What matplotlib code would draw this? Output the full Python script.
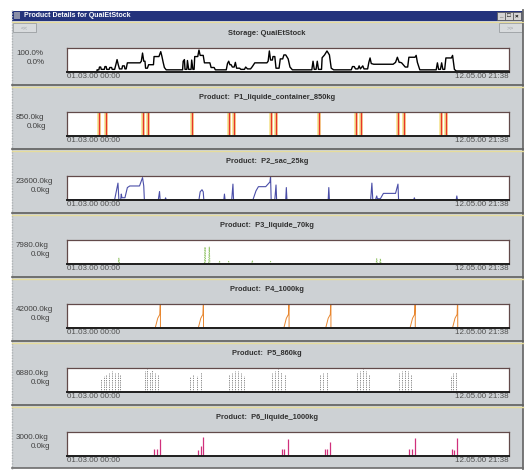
import matplotlib.pyplot as plt
from matplotlib.patches import Rectangle

plt.rcParams['font.family'] = ['Liberation Sans', 'DejaVu Sans']

W, H = 528, 471
SPAN = 72.9  # days from 01.03.00 00:00 to 12.05.00 21:38

win_title = 'Product Details for QuaiEtStock'
titles = ['Storage: QuaiEtStock',
          'Product:  P1_liquide_container_850kg',
          'Product:  P2_sac_25kg',
          'Product:  P3_liquide_70kg',
          'Product:  P4_1000kg',
          'Product:  P5_860kg',
          'Product:  P6_liquide_1000kg']
max_labels = ['100.0%', '850.0kg', '23600.0kg', '7980.0kg', '42000.0kg', '6880.0kg', '3000.0kg']
min_labels = ['0.0%', '0.0kg', '0.0kg', '0.0kg', '0.0kg', '0.0kg', '0.0kg']
ymax = [100, 850, 23600, 7980, 42000, 6880, 3000]
start_label = '01.03.00 00:00'
end_label = '12.05.00 21:38'

# storage fill level (%)
storage_days = [0, 5.0, 5.0, 5.3, 5.4, 5.6, 5.7, 6.2, 6.3, 6.5, 6.6, 7.0, 7.1, 7.4, 7.5, 7.9,
                8.1, 8.3, 8.5, 8.7, 9.1, 9.2, 9.5, 9.6, 9.8, 10.0, 12.1, 12.3, 12.5, 12.7,
                12.9, 13.0, 13.3, 13.5, 14.3, 14.4, 15.2, 15.5, 15.7, 15.9, 16.1, 16.4,
                19.1, 19.2, 19.4, 19.5, 19.8, 19.9, 20.1, 20.5, 20.6, 20.8, 21.0, 21.1,
                21.6, 21.8, 22.0, 22.5, 22.7, 23.6, 23.8, 24.3, 24.5, 26.3, 26.5, 26.7,
                26.9, 27.1, 27.3, 27.6, 27.8, 28.0, 28.5, 28.7, 29.3, 29.5, 29.8, 30.3,
                30.6, 31.0, 33.0, 33.2, 33.4, 33.6, 33.9, 34.0, 34.3, 34.5, 35.0, 35.2,
                35.6, 35.8, 36.1, 36.5, 36.8, 37.2, 40.4, 40.6, 40.8, 41.1, 41.3, 41.5,
                42.0, 42.1, 42.5, 42.9, 43.3, 43.6, 44.0, 46.9, 47.1, 47.4, 47.6, 48.0,
                48.2, 48.4, 48.8, 49.0, 49.6, 49.8, 50.0, 50.2, 50.6, 53.8, 54.2, 54.5,
                54.8, 55.0, 55.2, 55.8, 56.2, 56.4, 57.4, 57.6, 57.8, 58.2, 60.9, 61.1,
                61.3, 61.6, 61.8, 62.0, 62.3, 62.5, 63.4, 63.6, 63.9, 64.2, 72.9]
storage_pct = [0, 0, 8, 8, 20, 20, 10, 10, 22, 22, 10, 10, 18, 18, 10, 10,
               30, 52, 30, 12, 12, 25, 25, 12, 12, 38, 38, 45, 80, 45,
               45, 15, 15, 30, 30, 65, 65, 86, 65, 40, 18, 8,
               8, 45, 52, 10, 10, 48, 10, 10, 50, 10, 10, 65,
               65, 93, 70, 70, 38, 38, 18, 18, 8, 8, 35, 45,
               30, 30, 20, 20, 40, 15, 15, 10, 10, 20, 12, 12,
               22, 38, 38, 45, 89, 50, 50, 65, 65, 15, 15, 55,
               55, 72, 72, 55, 20, 8, 8, 45, 10, 10, 45, 10,
               10, 60, 72, 89, 72, 15, 8, 8, 22, 22, 12, 12,
               25, 12, 25, 12, 12, 40, 59, 35, 32, 32, 40, 62,
               40, 40, 38, 20, 20, 62, 62, 70, 40, 8, 8, 38,
               10, 10, 38, 10, 10, 59, 59, 70, 10, 3, 3]

# P1 container moves (days)
p1_days = [5.39, 6.45, 12.61, 13.39, 20.67, 26.67, 27.51, 33.68, 34.51,
           41.57, 47.62, 48.51, 54.63, 55.57, 61.68, 62.52]

# P2 stock (kg)
p2_days = [0, 7.9, 8.45, 8.6, 8.9, 9.0, 9.1, 9.6, 10.0, 10.4, 12.0, 12.5, 12.7, 12.8,
           15.1, 15.3, 15.4, 16.2, 16.3, 16.4, 21.8, 22.0, 22.3, 22.5, 22.6, 25.9, 26.0,
           26.1, 27.2, 27.4, 27.5, 30.7, 31.2, 31.6, 32.8, 33.5, 33.6, 33.7, 34.3, 34.5,
           34.6, 36.1, 36.2, 36.3, 43.1, 43.2, 43.3, 50.1, 50.3, 50.45, 50.9, 51.1, 51.2,
           51.7, 52.2, 54.2, 54.6, 54.7, 57.2, 57.3, 57.4, 64.2, 64.3, 64.4, 72.9]
p2_kg = [0, 0, 16800, 0, 0, 5700, 2000, 2000, 12300, 13900, 13900, 22400, 13900, 0,
         0, 8300, 0, 0, 1900, 0, 0, 8000, 10100, 8000, 0, 0, 5700,
         0, 0, 15800, 0, 0, 9000, 13200, 13200, 18000, 23600, 0, 0, 14900,
         0, 0, 12300, 0, 0, 12300, 0, 0, 16800, 0, 0, 3800, 1000,
         1000, 6400, 6400, 15800, 0, 0, 1900, 0, 0, 3800, 0, 0]

# P3 stock (kg)
p3_days = [0, 8.5, 8.6, 8.7, 22.7, 22.8, 22.9, 23.4, 23.5, 23.6, 25.1, 25.2, 25.3,
           26.6, 26.7, 26.8, 30.5, 30.6, 30.7, 33.5, 33.6, 33.7, 51.0, 51.1, 51.2,
           51.6, 51.7, 51.8, 72.9]
p3_kg = [0, 0, 1900, 0, 0, 5700, 0, 0, 5700, 0, 0, 800, 0,
         0, 800, 0, 0, 1100, 0, 0, 800, 0, 0, 1700, 0,
         0, 1700, 0, 0]

# P4 stock (kg)
p4_days = [0, 14.6, 15.0, 15.1, 15.35, 15.4, 15.45, 15.45,
           21.7, 22.1, 22.2, 22.45, 22.5, 22.55, 22.55,
           35.8, 36.2, 36.3, 36.55, 36.6, 36.65, 36.65,
           42.7, 43.1, 43.2, 43.45, 43.5, 43.55, 43.55,
           56.6, 57.0, 57.1, 57.35, 57.4, 57.45, 57.45,
           63.6, 64.0, 64.1, 64.35, 64.4, 64.45, 64.45, 72.9]
p4_kg = [0, 0, 17000, 19000, 24000, 42000, 42000, 0,
         0, 17000, 19000, 24000, 42000, 42000, 0,
         0, 17000, 19000, 24000, 42000, 42000, 0,
         0, 17000, 19000, 24000, 42000, 42000, 0,
         0, 17000, 19000, 24000, 42000, 42000, 0,
         0, 17000, 19000, 24000, 42000, 42000, 0, 0]

# P5 picks (kg)
p5_days = [5.7, 6.1, 6.5, 6.9, 7.4, 7.9, 8.4, 8.8,
           12.9, 13.3, 13.7, 14.1, 14.6, 15.0,
           20.3, 20.8, 21.5, 22.1,
           26.7, 27.2, 27.7, 28.2, 28.7, 29.3,
           33.9, 34.4, 34.9, 35.4, 35.9,
           41.7, 42.3, 42.9,
           47.8, 48.3, 48.8, 49.3, 49.9,
           54.7, 55.2, 55.7, 56.2, 56.7,
           63.3, 63.7, 64.2]
p5_kg = [3800, 4600, 5200, 5600, 6000, 5400, 5800, 4800,
         6200, 6600, 5800, 6400, 5600, 5000,
         4200, 5200, 4600, 5800,
         4800, 5600, 6200, 6000, 5600, 4600,
         5400, 6200, 6600, 5800, 5000,
         5000, 5400, 5800,
         5600, 6200, 6800, 6000, 5200,
         5400, 6000, 6400, 6000, 5200,
         4600, 5400, 5800]

# P6 picks (kg)
p6_days = [14.45, 14.84, 15.45, 21.56, 22.1, 22.4, 35.45, 35.84, 36.4,
           42.5, 42.9, 43.45, 56.4, 56.96, 57.4, 63.5, 63.9, 64.35]
p6_kg = [870, 870, 2100, 750, 1300, 2400, 870, 870, 2200,
         870, 870, 1700, 870, 870, 2300, 870, 750, 2300]

fig = plt.figure(figsize=(W / 100, H / 100), dpi=100)
fig.patch.set_facecolor('white')

bg = fig.add_axes([0, 0, 1, 1])
bg.set_xlim(0, W)
bg.set_ylim(H, 0)
bg.axis('off')

# window body and title bar
bg.add_patch(Rectangle((12, 20), 511, 448, fc='#cdd1d4', ec='none'))
bg.plot([11.5, 11.5], [10, 469], color='#aeb2b4', lw=1, ls=(0, (1, 1)))
bg.plot([523, 523], [10, 469], color='#6c6c6c', lw=1.3)
bg.plot([12, 523], [468, 468], color='#6c6c6c', lw=1.2)
bg.add_patch(Rectangle((12, 10.5), 511, 10, fc='#24337c', ec='none'))
bg.add_patch(Rectangle((14, 12), 6, 7, fc='#8a8fa8', ec='none'))
bg.text(24, 15.6, win_title, color='white', fontsize=5.0, fontweight='bold', va='center')
for bx, glyph in zip([497, 505, 513], ['_', '\u25a1', '\u00d7']):
    bg.add_patch(Rectangle((bx, 12), 7.5, 7.5, fc='#d4d4d4', ec='#555555', lw=0.5))
    bg.text(bx + 3.75, 15.6, glyph, fontsize=4.5, ha='center', va='center', color='black',
            fontweight='bold')
bg.plot([12, 523], [21.5, 21.5], color='#e6dc9c', lw=0.8)

# navigation buttons
for bx, lab in [(13, '<<'), (499, '>>')]:
    bg.add_patch(Rectangle((bx, 23), 23, 9, fc='#d8dbdd', ec='#9a9ea2', lw=0.6))
    bg.text(bx + 11.5, 27.6, lab, fontsize=4.5, ha='center', va='center', color='#a0a4a8')

box_x0, box_x1 = 66.7, 509.0
box_h = 24.0
tops = [47.7 + 64 * i for i in range(7)]
min_right = [45, 46, 50, 50, 50, 50, 50]

for i, top in enumerate(tops):
    bottom = top + box_h
    bg.text(267, top - 14.5, titles[i], fontsize=5.4, fontweight='bold', ha='center',
            va='center', color='#303030')
    bg.text(16, top + 5.5, max_labels[i], fontsize=5.8, ha='left', va='center', color='#404040')
    bg.text(min_right[i], top + 15, min_labels[i], fontsize=5.8, ha='right', va='center',
            color='#404040')
    bg.text(box_x0, bottom + 4.8, start_label, fontsize=5.8, ha='left', va='center', color='#505050')
    bg.text(box_x1, bottom + 4.8, end_label, fontsize=5.8, ha='right', va='center', color='#505050')
    if i < 6:
        sep = bottom + 13.5
        bg.plot([12, 523], [sep, sep], color='#5e5e5e', lw=1.2)
        bg.plot([12, 523], [sep + 1.6, sep + 1.6], color='#e6dc9c', lw=1.0)

axes = []
for i, top in enumerate(tops):
    ax = fig.add_axes([box_x0 / W, 1 - (top + box_h) / H, (box_x1 - box_x0) / W, box_h / H])
    ax.set_facecolor('white')
    ax.set_xlim(0, SPAN)
    ax.set_ylim(0, ymax[i] * 1.03)
    ax.set_xticks([])
    ax.set_yticks([])
    for s in ax.spines.values():
        s.set_color('#624a4a')
        s.set_linewidth(0.9)
    ax.spines['bottom'].set_color('#1e1e1e')
    ax.spines['bottom'].set_linewidth(1.4)
    axes.append(ax)

axes[0].plot(storage_days, storage_pct, color='black', lw=1.0)
axes[1].vlines(p1_days, 0, ymax[1], color='#f0d860', lw=2.6, alpha=0.7)
axes[1].vlines(p1_days, 0, ymax[1], color='#e8342a', lw=1.0)
axes[2].plot(p2_days, p2_kg, color='#4a4ea8', lw=0.8)
axes[3].plot(p3_days, p3_kg, color='#94c46a', lw=0.7, ls=(0, (1.5, 1)))
axes[4].plot(p4_days, p4_kg, color='#e8862e', lw=0.7)
axes[5].vlines(p5_days, 0, p5_kg, color='#7a7a7a', lw=0.6, linestyles=(0, (1.5, 1.2)))
axes[6].vlines(p6_days, 0, p6_kg, color='#d0307c', lw=0.9)

fig.savefig('out.png', dpi=100)
